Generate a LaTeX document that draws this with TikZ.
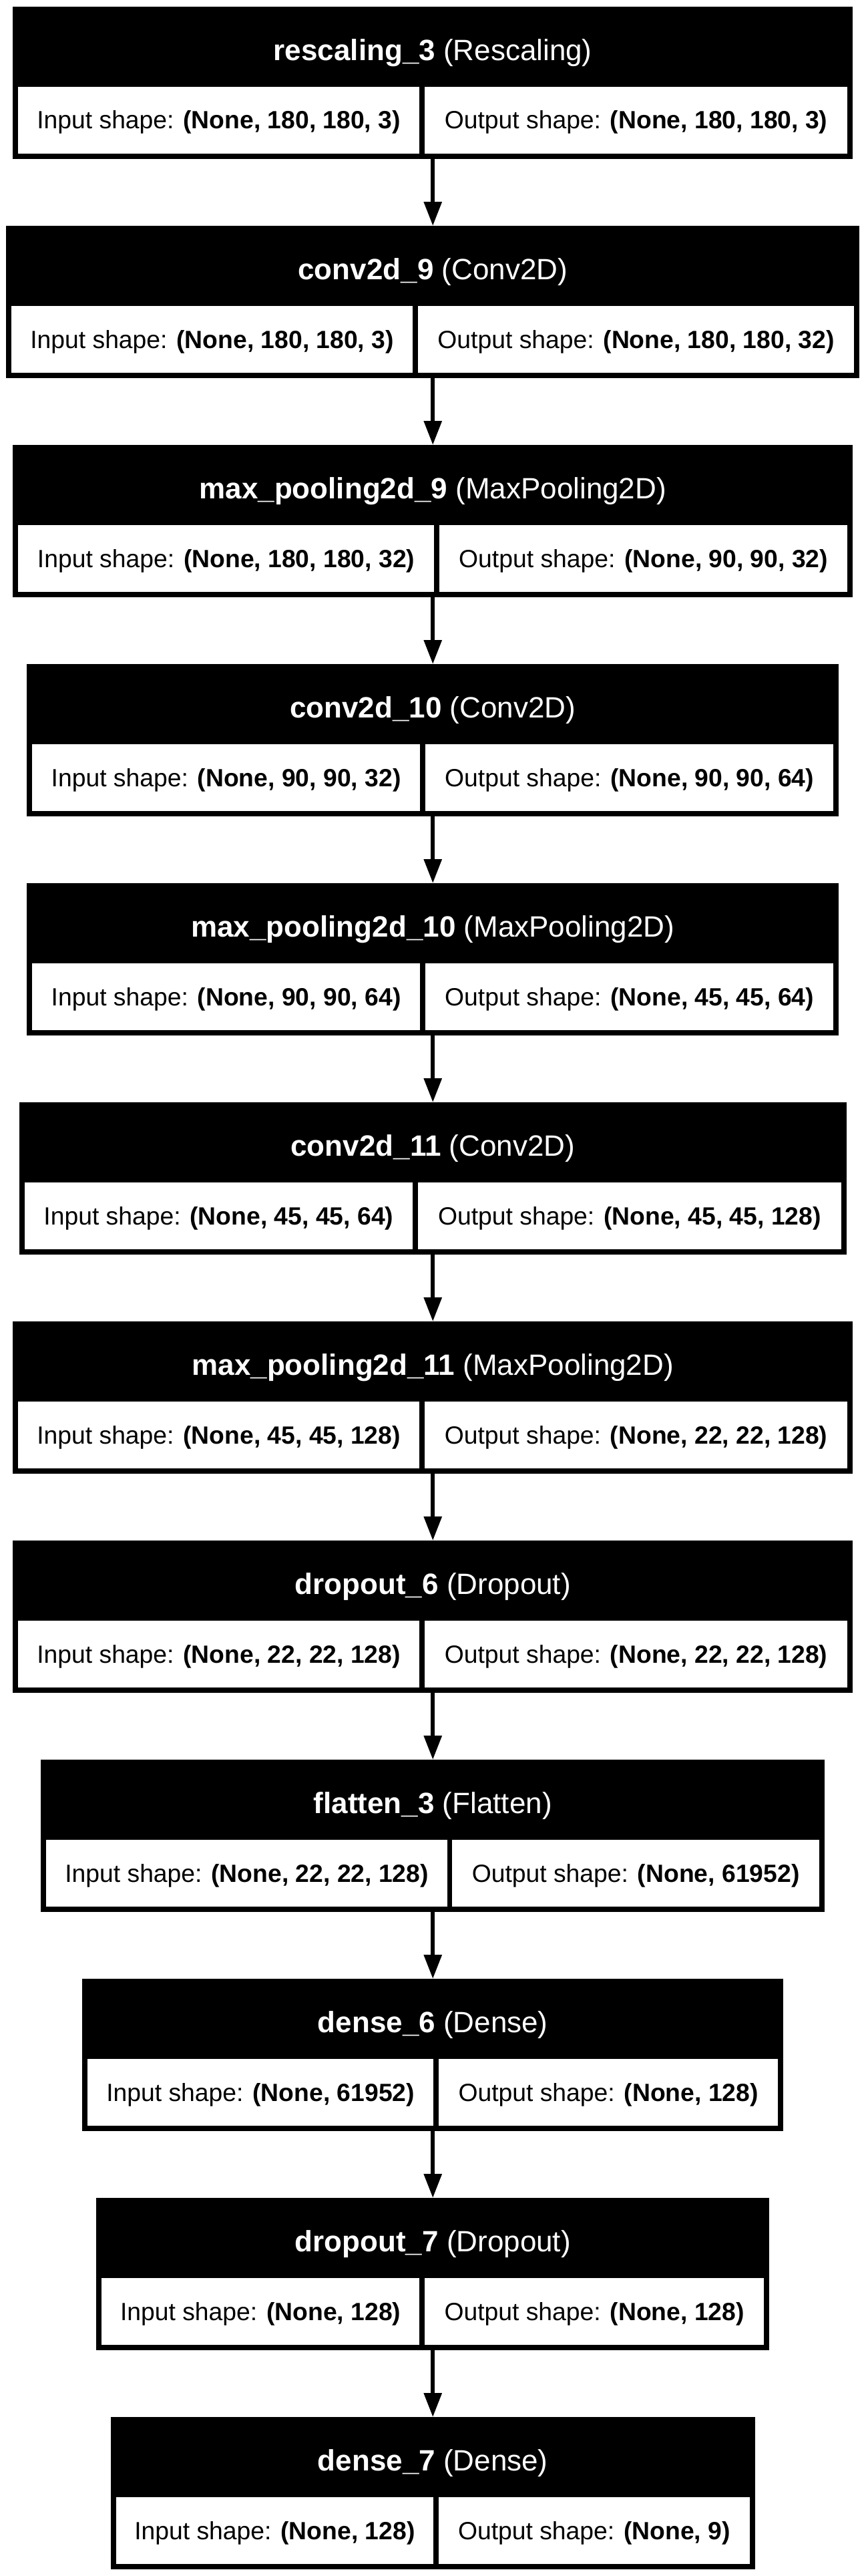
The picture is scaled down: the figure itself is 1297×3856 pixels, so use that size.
\documentclass[tikz,border=0pt]{standalone}
\usepackage{fontspec}
\setmainfont{Liberation Sans}
\usetikzlibrary{arrows.meta}
\tikzset{
  layerbg/.style={fill=black, draw=none, inner sep=0pt, outer sep=0pt, minimum height=228pt},
  cellbox/.style={fill=white, draw=none, inner sep=0pt, outer sep=0pt, minimum height=100pt,
    font=\fontsize{37.3}{40}\selectfont, text height=26pt, text depth=0pt},
  titletext/.style={text=white, inner sep=0pt, outer sep=0pt,
    font=\fontsize{44}{48}\selectfont, text height=31pt, text depth=0pt},
  flow/.style={line width=6pt, -{Triangle[length=36pt,width=26pt]}}
}
% #1 name, #2 index, #3 half width, #4 divider left, #5 divider right,
% #6 title bold, #7 title regular, #8 input, #9 output
\newcommand\layerbox[9]{%
  \pgfmathsetmacro\lbT{10+328*#2}%
  \pgfmathsetmacro\lbL{648.25-#3}%
  \pgfmathsetmacro\lbR{648.25+#3}%
  \pgfmathsetmacro\lbW{2*#3}%
  \pgfmathsetmacro\lbCY{-\lbT-114}%
  \pgfmathsetmacro\lbRY{-\lbT-170}%
  \pgfmathsetmacro\lbTY{-\lbT-65}%
  \node[layerbg, minimum width=\lbW pt] (#1) at (648.25,\lbCY) {};
  \pgfmathsetmacro\lbIW{#4-\lbL-8}%
  \pgfmathsetmacro\lbIX{(#4+\lbL+8)/2}%
  \pgfmathsetmacro\lbOW{\lbR-8-#5}%
  \pgfmathsetmacro\lbOX{(\lbR-8+#5)/2}%
  \node[cellbox, minimum width=\lbIW pt] (#1in) at (\lbIX,\lbRY) {Input shape: \textbf{#8}};
  \node[cellbox, minimum width=\lbOW pt] (#1out) at (\lbOX,\lbRY) {Output shape: \textbf{#9}};
  \node[titletext] (#1title) at (648.25,\lbTY) {\textbf{#6} #7};
}
\begin{document}
\begin{tikzpicture}[x=1pt,y=1pt]
\useasboundingbox[fill=white] (0,0) rectangle (1297,-3856);
\layerbox{b1}{0}{629}{628}{636}{rescaling\_3}{(Rescaling)}{(None, 180, 180, 3)}{(None, 180, 180, 3)}
\layerbox{b2}{1}{639}{618}{626}{conv2d\_9}{(Conv2D)}{(None, 180, 180, 3)}{(None, 180, 180, 32)}
\layerbox{b3}{2}{629}{650}{658}{max\_pooling2d\_9}{(MaxPooling2D)}{(None, 180, 180, 32)}{(None, 90, 90, 32)}
\layerbox{b4}{3}{608}{629}{637}{conv2d\_10}{(Conv2D)}{(None, 90, 90, 32)}{(None, 90, 90, 64)}
\layerbox{b5}{4}{608}{629}{637}{max\_pooling2d\_10}{(MaxPooling2D)}{(None, 90, 90, 64)}{(None, 45, 45, 64)}
\layerbox{b6}{5}{619.5}{618}{626}{conv2d\_11}{(Conv2D)}{(None, 45, 45, 64)}{(None, 45, 45, 128)}
\layerbox{b7}{6}{629}{628}{636}{max\_pooling2d\_11}{(MaxPooling2D)}{(None, 45, 45, 128)}{(None, 22, 22, 128)}
\layerbox{b8}{7}{629}{628}{636}{dropout\_6}{(Dropout)}{(None, 22, 22, 128)}{(None, 22, 22, 128)}
\layerbox{b9}{8}{587}{670}{677}{flatten\_3}{(Flatten)}{(None, 22, 22, 128)}{(None, 61952)}
\layerbox{b10}{9}{525}{649}{657}{dense\_6}{(Dense)}{(None, 61952)}{(None, 128)}
\layerbox{b11}{10}{504}{628}{636}{dropout\_7}{(Dropout)}{(None, 128)}{(None, 128)}
\layerbox{b12}{11}{482.5}{649}{657}{dense\_7}{(Dense)}{(None, 128)}{(None, 9)}
\draw[flow] (b1.south) -- (b2.north);
\draw[flow] (b2.south) -- (b3.north);
\draw[flow] (b3.south) -- (b4.north);
\draw[flow] (b4.south) -- (b5.north);
\draw[flow] (b5.south) -- (b6.north);
\draw[flow] (b6.south) -- (b7.north);
\draw[flow] (b7.south) -- (b8.north);
\draw[flow] (b8.south) -- (b9.north);
\draw[flow] (b9.south) -- (b10.north);
\draw[flow] (b10.south) -- (b11.north);
\draw[flow] (b11.south) -- (b12.north);
\end{tikzpicture}
\end{document}
